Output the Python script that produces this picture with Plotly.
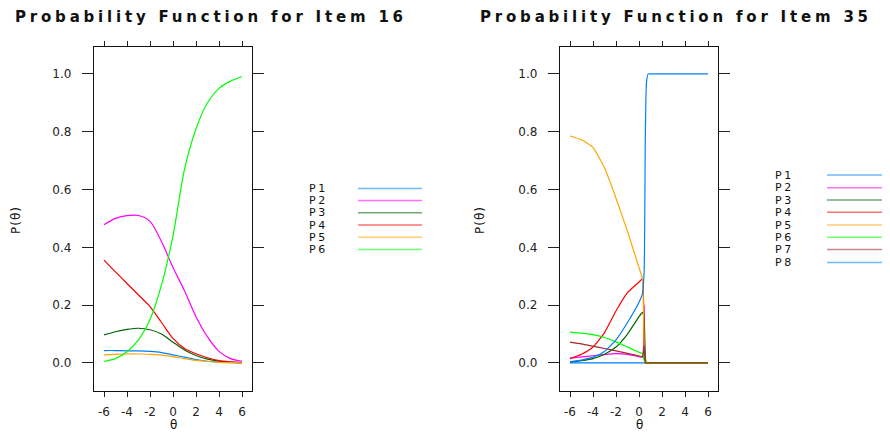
import plotly.graph_objects as go

# ---------------- data ----------------
THETA_16 = [-6, -5, -4, -3, -2, -1, 0, 1, 2, 3, 4, 5, 6]
ITEM16 = {
    "P1": [0.043, 0.043, 0.042, 0.042, 0.040, 0.036, 0.028, 0.020, 0.012, 0.006, 0.003, 0.001, 0.0005],
    "P2": [0.478, 0.500, 0.510, 0.510, 0.490, 0.420, 0.330, 0.250, 0.160, 0.090, 0.040, 0.015, 0.006],
    "P3": [0.097, 0.108, 0.116, 0.120, 0.115, 0.100, 0.072, 0.045, 0.026, 0.013, 0.006, 0.003, 0.001],
    "P4": [0.356, 0.315, 0.275, 0.235, 0.195, 0.140, 0.085, 0.050, 0.032, 0.018, 0.008, 0.004, 0.002],
    "P5": [0.028, 0.030, 0.031, 0.031, 0.030, 0.027, 0.022, 0.015, 0.009, 0.005, 0.002, 0.001, 0.0005],
    "P6": [0.005, 0.015, 0.039, 0.080, 0.150, 0.270, 0.440, 0.670, 0.810, 0.900, 0.950, 0.975, 0.990],
}

THETA_35 = [-6, -5, -4, -3, -2, -1, 0, 0.3, 0.45, 0.55, 0.65, 0.8, 1, 2, 3, 4, 5, 6]
ITEM35 = {
    "P1": [0, 0, 0, 0, 0, 0, 0, 0, 0, 0, 0, 0, 0, 0, 0, 0, 0, 0],
    "P2": [0.017, 0.021, 0.025, 0.029, 0.032, 0.030, 0.022, 0.020, 0.200, 0, 0, 0, 0, 0, 0, 0, 0, 0],
    "P3": [0.003, 0.008, 0.015, 0.030, 0.055, 0.100, 0.160, 0.175, 0.150, 0.020, 0, 0, 0, 0, 0, 0, 0, 0],
    "P4": [0.015, 0.030, 0.055, 0.105, 0.180, 0.243, 0.280, 0.290, 0.020, 0, 0, 0, 0, 0, 0, 0, 0, 0],
    "P5": [0.785, 0.772, 0.745, 0.675, 0.570, 0.455, 0.330, 0.290, 0.050, 0, 0, 0, 0, 0, 0, 0, 0, 0],
    "P6": [0.107, 0.103, 0.098, 0.088, 0.073, 0.055, 0.037, 0.032, 0.010, 0, 0, 0, 0, 0, 0, 0, 0, 0],
    "P7": [0.072, 0.066, 0.058, 0.050, 0.042, 0.033, 0.024, 0.022, 0.060, 0, 0, 0, 0, 0, 0, 0, 0, 0],
    "P8": [0.004, 0.010, 0.020, 0.040, 0.080, 0.140, 0.210, 0.240, 0.320, 0.780, 0.970, 1, 1, 1, 1, 1, 1, 1],
}

TITLES = ["Probability Function for Item 16", "Probability Function for Item 35"]
X_TICKVALS = [-6, -4, -2, 0, 2, 4, 6]
X_TICKTEXT = ["-6", "-4", "-2", "0", "2", "4", "6"]
Y_TICKVALS = [0.0, 0.2, 0.4, 0.6, 0.8, 1.0]
Y_TICKTEXT = ["0.0", "0.2", "0.4", "0.6", "0.8", "1.0"]
COLORS = ["#0080ff", "#ff00ff", "#006400", "#ff0000", "#ffa500", "#00ff00", "#a52a2a", "#0080ff"]

# ---------------- figure ----------------
# the html page has an 8px body margin: the figure is sized to fill the rest of the window
OFF = 8
W, H = 890 - OFF, 435 - OFF
def px(x):
    return (x - OFF) / W
def py(y):
    return 1 - (y - OFF) / H

fig = go.Figure()

for i, (name, vals) in enumerate(ITEM16.items()):
    fig.add_trace(go.Scatter(x=THETA_16, y=vals, mode="lines", name=name,
                             line=dict(color=COLORS[i], width=1.2, shape="spline", smoothing=0.8),
                             xaxis="x", yaxis="y", showlegend=False))
for i, (name, vals) in enumerate(ITEM35.items()):
    fig.add_trace(go.Scatter(x=THETA_35, y=vals, mode="lines", name=name,
                             line=dict(color=COLORS[i], width=1.2, shape="spline", smoothing=0.5),
                             xaxis="x2", yaxis="y2", showlegend=False))

tickfont = dict(family="DejaVu Sans", size=12, color="#222")
common_x = dict(range=[-6.87, 6.87], tickmode="array", tickvals=X_TICKVALS, ticktext=X_TICKTEXT,
                ticks="outside", ticklen=5, tickcolor="#222", mirror="allticks", showline=True,
                linecolor="#111", linewidth=1.3, showgrid=False, zeroline=False, tickfont=tickfont,
                ticklabelstandoff=4, fixedrange=True)
common_y = dict(range=[-0.097, 1.093], tickmode="array", tickvals=Y_TICKVALS, ticktext=Y_TICKTEXT,
                ticks="outside", ticklen=11, tickcolor="#222", mirror="allticks", showline=True,
                linecolor="#111", linewidth=1.3, showgrid=False, zeroline=False, tickfont=tickfont,
                ticklabelstandoff=8, fixedrange=True)

ydom = [py(391), py(47)]
fig.update_layout(
    width=W, height=H, margin=dict(l=0, r=0, t=0, b=0),
    paper_bgcolor="white", plot_bgcolor="white", showlegend=False,
    xaxis=dict(domain=[px(94), px(252)], anchor="y", **common_x),
    yaxis=dict(domain=ydom, anchor="x", **common_y),
    xaxis2=dict(domain=[px(560), px(718)], anchor="y2", **common_x),
    yaxis2=dict(domain=ydom, anchor="x2", **common_y),
)

def ann(text, x, y, size=12, bold=False, angle=0, xanchor="center", spacing=0, family="DejaVu Sans"):
    t = text
    if spacing:
        t = f'<span style="letter-spacing:{spacing}px">{t}</span>'
    if bold:
        t = f"<b>{t}</b>"
    fig.add_annotation(text=t, x=px(x), y=py(y), xref="paper", yref="paper",
                       showarrow=False, xanchor=xanchor, yanchor="middle", textangle=angle,
                       font=dict(family=family, size=size, color="#111"))

# titles
ann(TITLES[0], 211, 17, size=15, bold=True, spacing=3.8)
ann(TITLES[1], 676, 17, size=15, bold=True, spacing=3.8)
# axis titles
ann("P(θ)", 16, 220, size=12, angle=-90, spacing=1)
ann("P(θ)", 480, 220, size=12, angle=-90, spacing=1)
ann("θ", 173, 425, size=12)
ann("θ", 639, 425, size=12)

# legends (text left, line sample right, lattice style)
def legend(names, x_text, x0, x1, y_rows):
    for i, (name, y) in enumerate(zip(names, y_rows)):
        ann(name, x_text, y, size=11, xanchor="left", spacing=2.5)
        fig.add_shape(type="line", xref="paper", yref="paper", x0=px(x0), x1=px(x1),
                      y0=py(y), y1=py(y), line=dict(color=COLORS[i], width=1.5), opacity=0.55)

legend(list(ITEM16.keys()), 307, 358, 422, [188.5, 200.5, 212.7, 225, 237.3, 249.5])
legend(list(ITEM35.keys()), 773, 827, 890, [175, 187.7, 200, 212.3, 225, 237.3, 249.5, 262.5])

fig.write_html("out.html")
